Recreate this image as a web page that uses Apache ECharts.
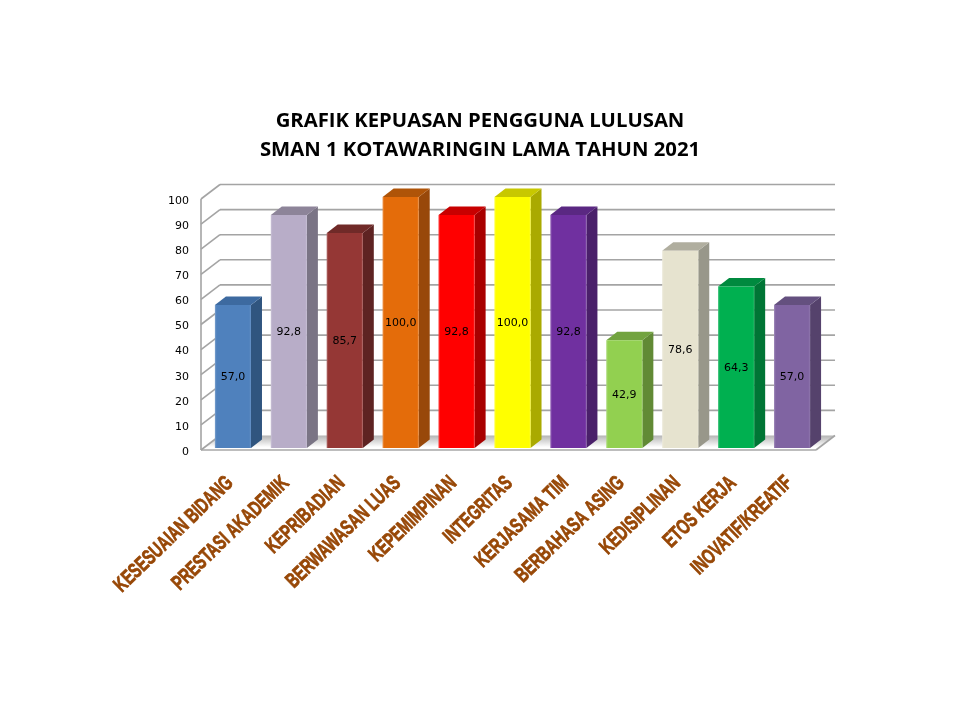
<!DOCTYPE html>
<html><head><meta charset="utf-8">
<style>html,body{margin:0;padding:0;background:#fff}#c{width:960px;height:720px}</style>
<script src="https://cdn.jsdelivr.net/npm/echarts@6/dist/echarts.min.js"></script>
</head><body><div id="c"></div>
<script>
const categories = ['KESESUAIAN BIDANG','PRESTASI AKADEMIK','KEPRIBADIAN','BERWAWASAN LUAS','KEPEMIMPINAN','INTEGRITAS','KERJASAMA TIM','BERBAHASA ASING','KEDISIPLINAN','ETOS KERJA','INOVATIF/KREATIF'];
const values = [57.0,92.8,85.7,100.0,92.8,100.0,92.8,42.9,78.6,64.3,57.0];
const frontColors = ['#4F81BD','#B8ADC8','#953735','#E46C0A','#FF0000','#FFFF00','#7030A0','#92D050','#E6E3CF','#00B050','#8064A2'];
const sideColors  = ['#30557F','#7A7485','#5E2322','#98480A','#A80000','#AAAA00','#4A206A','#618A35','#98978A','#007535','#55426C'];
const topColors   = ['#3D6AA0','#8D8499','#702A28','#AF5408','#C80000','#C8C800','#5A2882','#72A33F','#B0AE9F','#008A3F','#64507F'];
const ticks = [0,10,20,30,40,50,60,70,80,90,100];

const wallDepth = {x:19, y:-14.5};
const barDepth = {x:11, y:-8.5};
const gridLine = '#a4a4a4';

function renderWall(params, api){
  const cs = params.coordSys;
  const v = api.value(1);
  const y = api.coord([0, v])[1];
  const x0 = cs.x, x1 = cs.x + cs.width;
  const dx = wallDepth.x, dy = wallDepth.y;
  const ls = {stroke:gridLine, lineWidth:1.6};
  const children = [];
  if (v === 0) {
    children.push({type:'polygon', shape:{points:[[x0,y],[x0+dx,y+dy],[x1+dx,y+dy],[x1,y]]},
      style:{fill:{type:'linear',x:0,y:0,x2:0,y2:1,colorStops:[{offset:0,color:'#b4b4b4'},{offset:0.45,color:'#dedede'},{offset:0.8,color:'#ffffff'},{offset:1,color:'#ffffff'}]}}});
    children.push({type:'line', shape:{x1:x0,y1:y,x2:x1,y2:y}, style:{stroke:'#bdbdbd', lineWidth:2.2}});
    children.push({type:'line', shape:{x1:x1,y1:y,x2:x1+dx,y2:y+dy}, style:ls});
    children.push({type:'line', shape:{x1:x0,y1:y,x2:x0,y2:api.coord([0,100])[1]}, style:ls});
  } else {
    children.push({type:'line', shape:{x1:x0+dx,y1:y+dy,x2:x1+dx,y2:y+dy}, style:ls});
  }
  children.push({type:'line', shape:{x1:x0,y1:y,x2:x0+dx,y2:y+dy}, style:ls});
  return {type:'group', children};
}

function renderBar(params, api){
  const i = api.value(0), v = api.value(1);
  const c = api.coord([i, v]), b = api.coord([i, 0]);
  const w = api.size([1,0])[0] * 0.645;
  const xl = c[0] + 4 - w/2, xr = xl + w;
  const yt = c[1] - 2, yb = b[1] - 2;
  const dx = barDepth.x, dy = barDepth.y;
  return {type:'group', children:[
    {type:'polygon', shape:{points:[[xr,yt],[xr+dx,yt+dy],[xr+dx,yb+dy],[xr,yb]]}, style:{fill:sideColors[i]}},
    {type:'polygon', shape:{points:[[xl,yt],[xl+dx,yt+dy],[xr+dx,yt+dy],[xr,yt]]}, style:{fill:topColors[i]}},
    {type:'rect', shape:{x:xl,y:yt,width:w,height:yb-yt}, style:{fill:frontColors[i]}},
    {type:'rect', shape:{x:xl,y:yt,width:w,height:yb-yt},
      style:{fill:{type:'linear',x:0,y:0,x2:1,y2:0,colorStops:[
        {offset:0,color:'rgba(255,255,255,0.25)'},{offset:0.05,color:'rgba(255,255,255,0)'},
        {offset:0.95,color:'rgba(255,255,255,0)'},{offset:1,color:'rgba(255,255,255,0.12)'}]}}},
    {type:'text', x:(xl+xr)/2, y:(yt+yb)/2+1, style:{text:v.toFixed(1).replace('.',','), fill:'#000', font:'11px "DejaVu Sans"', align:'center', verticalAlign:'middle'}}
  ]};
}

function renderCategoryLabel(params, api){
  const i = api.value(0);
  const c = api.coord([i, 0]);
  return {type:'text', x:c[0]+1, y:c[1]+30, rotation:0.77, scaleX:0.69, scaleY:1,
    style:{text:categories[i], fill:'#974706', stroke:'#974706', lineWidth:0.8,
      font:'bold 21px "Liberation Sans"', align:'right', verticalAlign:'middle',
      shadowColor:'rgba(90,40,0,0.55)', shadowBlur:1, shadowOffsetX:1, shadowOffsetY:1}};
}

const chart = echarts.init(document.getElementById('c'), null, {renderer:'canvas'});
chart.setOption({
  animation:false,
  backgroundColor:'#fff',
  title:{
    text:'GRAFIK KEPUASAN PENGGUNA LULUSAN\nSMAN 1 KOTAWARINGIN LAMA TAHUN 2021',
    left:475, top:102, textAlign:'center',
    textStyle:{fontFamily:'"Open Sans"', fontWeight:'bold', fontSize:20.3, lineHeight:29, color:'#000'}
  },
  grid:{left:201, top:199, width:615, height:251},
  xAxis:{type:'category', data:categories,
    axisLine:{show:false}, axisTick:{show:false}, axisLabel:{show:false}},
  yAxis:{type:'value', min:0, max:100, interval:10,
    axisLine:{show:false}, axisTick:{show:false}, splitLine:{show:false},
    axisLabel:{margin:12, color:'#000', fontFamily:'"DejaVu Sans"', fontSize:11, verticalAlign:'top', lineHeight:4}},
  series:[
    {type:'custom', name:'walls', clip:false, z:1, renderItem:renderWall, encode:{x:0,y:1},
     data:ticks.map(t=>[0,t])},
    {type:'custom', name:'bars', clip:false, z:2, renderItem:renderBar, encode:{x:0,y:1},
     data:values.map((v,i)=>[i,v])},
    {type:'custom', name:'labels', clip:false, z:3, renderItem:renderCategoryLabel, encode:{x:0,y:1},
     data:values.map((v,i)=>[i,v])}
  ]
});
</script></body></html>
